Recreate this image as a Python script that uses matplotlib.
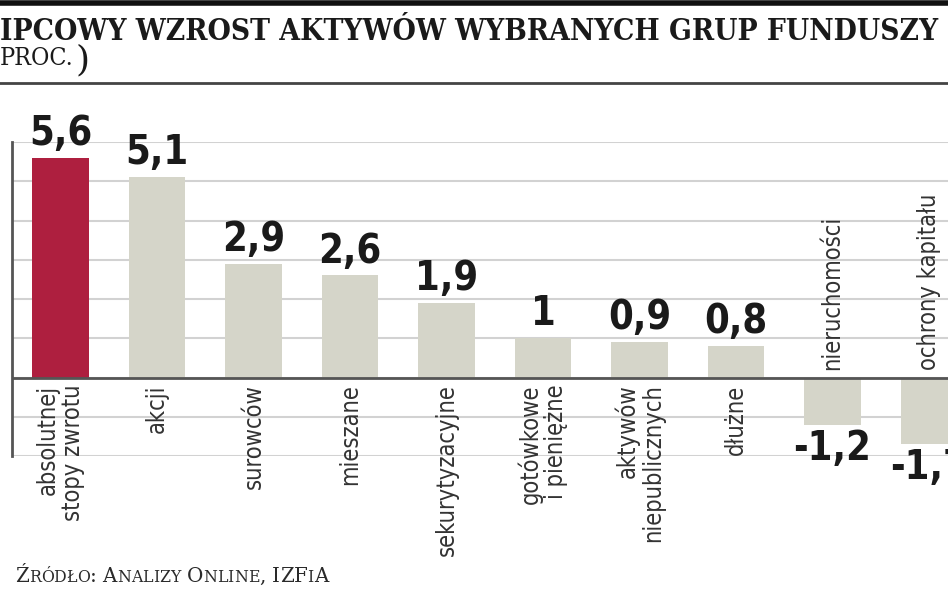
import matplotlib
matplotlib.use("Agg")
import matplotlib.pyplot as plt
from matplotlib.lines import Line2D
import numpy as np

# dane (proc.)
categories = ["absolutnej\nstopy zwrotu", "akcji", "surowców", "mieszane",
              "sekurytyzacyjne", "gotówkowe\ni pieniężne", "aktywów\nniepublicznych",
              "dłużne", "nieruchomości", "ochrony kapitału"]
values = [5.6, 5.1, 2.9, 2.6, 1.9, 1.0, 0.9, 0.8, -1.2, -1.7]
value_labels = ["5,6", "5,1", "2,9", "2,6", "1,9", "1", "0,9", "0,8", "-1,2", "-1,7"]
highlight = 0

title_line1 = "IPCOWY WZROST AKTYWÓW WYBRANYCH GRUP FUNDUSZY"
title_line2 = "PROC."
source = "Źródło: Analizy Online, IZFiA"

RED = "#ae1f3f"
GREY = "#d5d5c9"
GRID = "#d2d2d2"
DARK = "#555555"

fig = plt.figure(figsize=(9.48, 5.93), dpi=100)
ax = fig.add_axes([12 / 948, 0.231, 936 / 948, 0.5295])

x = np.arange(len(values))
colors = [RED if i == highlight else GREY for i in x]
ax.bar(x, values, width=0.59, color=colors, zorder=2)

ax.set_xlim(-0.503, 9.197)
ax.set_ylim(-2, 6)
ax.set_yticks(range(-2, 7))
ax.yaxis.grid(True, color=GRID, lw=1.5, zorder=0)
ax.set_axisbelow(True)
ax.axhline(0, color=DARK, lw=2, zorder=3)
ax.tick_params(left=False, bottom=False, labelleft=False, labelbottom=False)
for s in ["top", "right", "bottom"]:
    ax.spines[s].set_visible(False)
ax.spines["left"].set_color(DARK)
ax.spines["left"].set_linewidth(2)

for xi, v, lab, cat in zip(x, values, value_labels, categories):
    if v >= 0:
        ax.text(xi, v + 0.1, lab, ha="center", va="bottom", fontsize=28.5,
                fontweight="bold", fontstretch="condensed", color="#1a1a1a")
        ax.text(xi, -0.18, cat, ha="center", va="top", rotation=90,
                multialignment="right", fontsize=17, fontweight="light",
                fontstretch="condensed", color="#333333", linespacing=1.05)
    else:
        ax.text(xi, v - 0.1, lab, ha="center", va="top", fontsize=28.5,
                fontweight="bold", fontstretch="condensed", color="#1a1a1a")
        ax.text(xi, 0.2, cat, ha="center", va="bottom", rotation=90,
                multialignment="right", fontsize=17, fontweight="light",
                fontstretch="condensed", color="#333333", linespacing=1.05)

# naglowek
fig.add_artist(Line2D([0, 1], [1 - 2.5 / 593] * 2, color="#111111", lw=4))
fig.add_artist(Line2D([0, 1], [1 - 83 / 593] * 2, color="#444444", lw=2))
fig.text(0.0, 1 - 40 / 593, title_line1, ha="left", va="baseline",
         fontsize=21.4, fontweight="bold", family="DejaVu Serif",
         fontstretch="condensed", color="#1a1a1a")
t2 = fig.text(0.0, 1 - 65 / 593, title_line2, ha="left", va="baseline",
              fontsize=18, family="DejaVu Serif", fontstretch="condensed",
              color="#1a1a1a")
ax.annotate(")", xy=(1, 0), xycoords=t2, xytext=(1.5, 0),
            textcoords="offset points", ha="left", va="baseline",
            fontsize=26, family="DejaVu Serif", color="#1a1a1a",
            annotation_clip=False)

# zrodlo - kapitaliki
last = None
for ch in source:
    big = ch.isupper() or not ch.isalpha()
    txt = ch.upper()
    size = 14.3 if big else 11.3
    if last is None:
        last = fig.text(15 / 948, 1 - 586 / 593, txt, ha="left", va="bottom",
                        fontsize=size, family="DejaVu Serif", color="#2a2a2a")
    else:
        last = ax.annotate(txt, xy=(1, 0), xycoords=last, ha="left", va="bottom",
                           fontsize=size, family="DejaVu Serif", color="#2a2a2a",
                           annotation_clip=False)

fig.savefig("out.png", dpi=100)
